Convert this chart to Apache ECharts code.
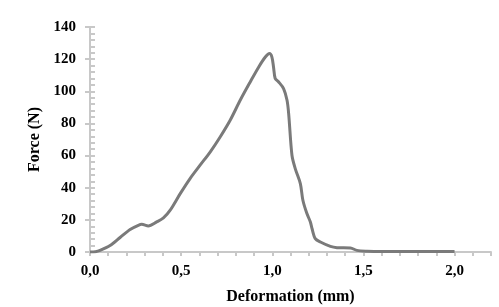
<!DOCTYPE html>
<html>
<head>
<meta charset="utf-8">
<script src="https://cdn.jsdelivr.net/npm/echarts@6/dist/echarts.min.js"></script>
<style>html,body{margin:0;padding:0;background:#fff}#c{width:499px;height:307px}</style>
</head>
<body>
<div id="c"></div>
<script>
var deformation = [0, 0.03, 0.055, 0.11, 0.165, 0.22, 0.265, 0.284, 0.32, 0.366, 0.403, 0.44, 0.495, 0.549, 0.604, 0.659, 0.714, 0.769, 0.824, 0.879, 0.925, 0.962, 0.985, 0.998, 1.007, 1.016, 1.035, 1.062, 1.081, 1.09, 1.108, 1.126, 1.154, 1.168, 1.19, 1.209, 1.218, 1.236, 1.264, 1.319, 1.355, 1.429, 1.465, 1.52, 1.6, 1.8, 2.0];
var force = [0, 0.2, 1, 4, 9, 14, 16.6, 17.2, 16.2, 18.7, 21.2, 26, 36.3, 45.7, 54, 62.2, 71.6, 82, 94.4, 105.8, 115, 121.3, 123.5, 121.3, 115, 108, 105.8, 101.7, 94.4, 86, 60.2, 51.9, 42.6, 32.2, 23.9, 18.7, 14.6, 8.3, 6.2, 3.5, 2.7, 2.5, 1, 0.5, 0.3, 0.3, 0.3];
var xTicks = [0, 0.5, 1.0, 1.5, 2.0];
var yTicks = [0, 20, 40, 60, 80, 100, 120, 140];

var points = deformation.map(function (d, i) { return [d, force[i]]; });
var font = '"Liberation Serif", "Times New Roman", serif';
var chart = echarts.init(document.getElementById('c'), null, { renderer: 'canvas' });
chart.setOption({
  animation: false,
  grid: { left: 90, right: 8, top: 27, bottom: 55, containLabel: false, outerBoundsMode: 'none' },
  xAxis: {
    type: 'value', min: 0, max: 2.2, interval: 0.5,
    name: 'Deformation (mm)', nameLocation: 'middle', nameGap: 37,
    nameTextStyle: { fontFamily: font, fontWeight: 'bold', fontSize: 16, color: '#000' },
    axisLine: { show: true, lineStyle: { color: '#c8c8c8', width: 2 } },
    axisTick: { show: true, length: 4, lineStyle: { color: '#c8c8c8', width: 2 } },
    minorTick: { show: true, splitNumber: 5, length: 4, lineStyle: { color: '#c8c8c8', width: 2 } },
    splitLine: { show: false },
    axisLabel: {
      fontFamily: font, fontWeight: 'bold', fontSize: 15, color: '#000', margin: 12,
      customValues: xTicks,
      formatter: function (v) { return v.toFixed(1).replace('.', ','); }
    }
  },
  yAxis: [{
    type: 'value', min: 0, max: 140, interval: 20,
    name: 'Force (N)', nameLocation: 'middle', nameGap: 45,
    nameTextStyle: { fontFamily: font, fontWeight: 'bold', fontSize: 16, color: '#000' },
    axisLine: { show: true, lineStyle: { color: '#c8c8c8', width: 2 } },
    axisTick: { show: true, inside: true, length: 5, lineStyle: { color: '#c8c8c8', width: 2 } },
    minorTick: { show: true, splitNumber: 5, length: 5, lineStyle: { color: '#c8c8c8', width: 2 } },
    splitLine: { show: false },
    axisLabel: { fontFamily: font, fontWeight: 'bold', fontSize: 15, color: '#000', margin: 14, customValues: yTicks }
  }, {
    type: 'value', min: 0, max: 140, interval: 20, position: 'left',
    axisLine: { show: false },
    axisTick: { show: true, inside: false, length: 5, lineStyle: { color: '#c8c8c8', width: 2 } },
    splitLine: { show: false },
    axisLabel: { show: false }
  }],
  series: [{
    type: 'line', data: points, showSymbol: false, symbol: 'none', smooth: 0.3,
    lineStyle: { color: '#7a7a7a', width: 3 }
  }]
});
</script>
</body>
</html>
